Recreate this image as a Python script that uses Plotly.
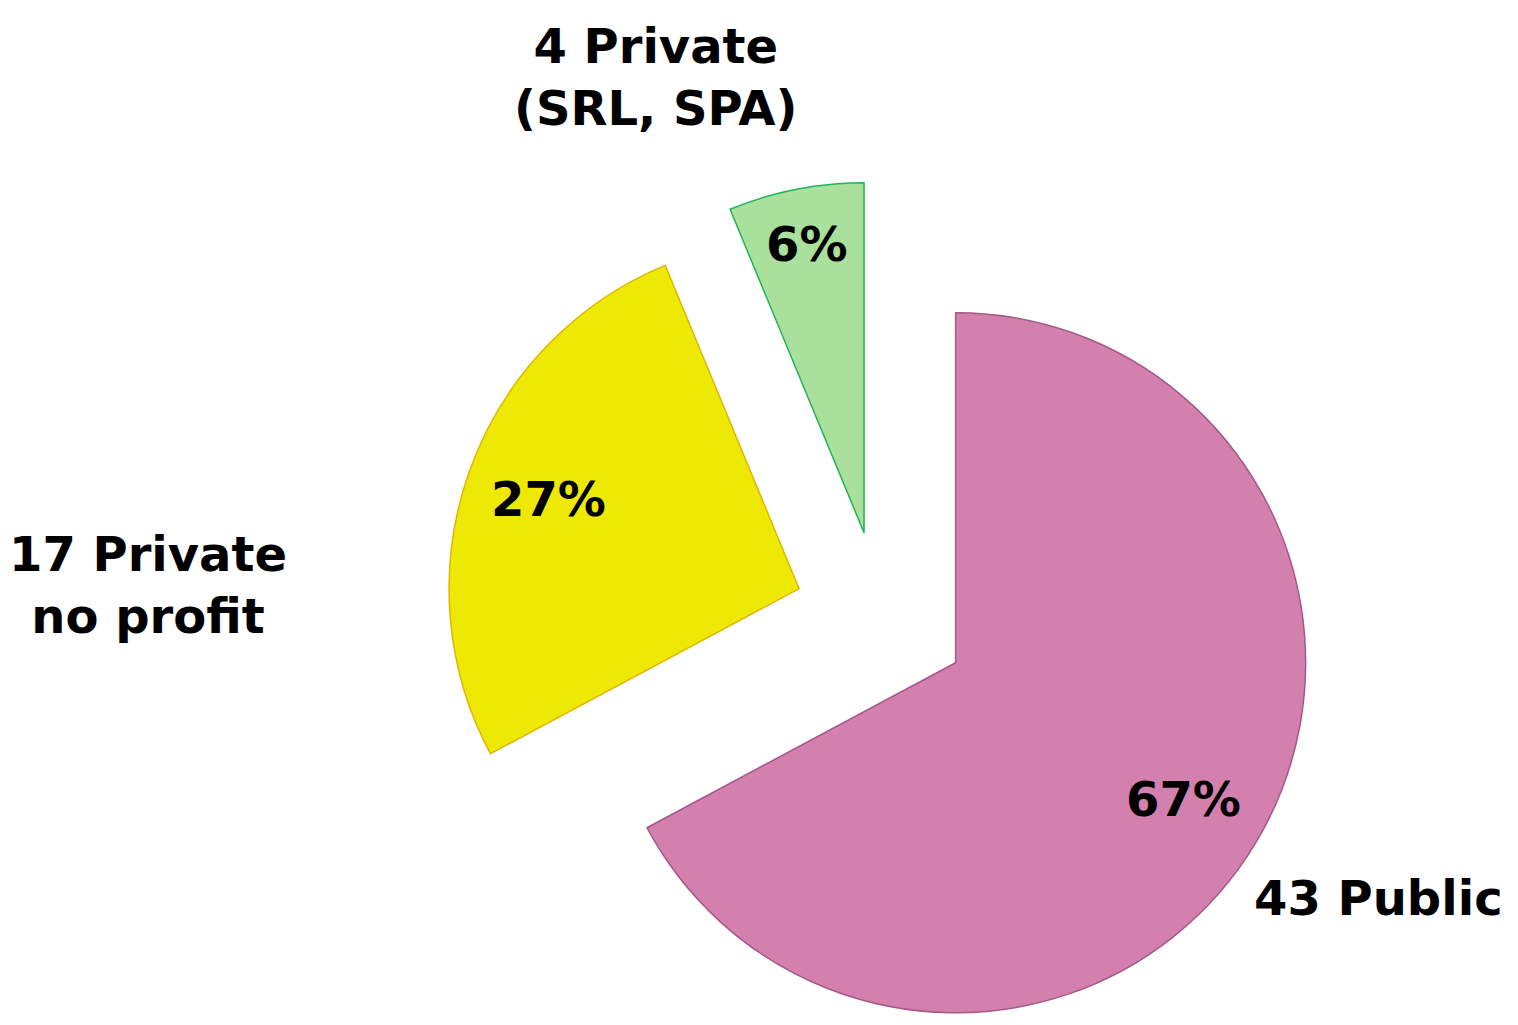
import math
import plotly.graph_objects as go

# Enterprise legal form breakdown
labels = ["Public", "Private no profit", "Private (SRL, SPA)"]
counts = [43, 17, 4]
label_lines = ["{n} Public", "{n} Private<br>no profit", "{n} Private<br>(SRL, SPA)"]

fill_colors = ["#D380AF", "#EDE804", "#A9E09C"]
edge_colors = ["#A4588A", "#E2B600", "#22B25C"]

W, H = 1518, 1025
CX, CY = 881.0, 618.0      # centre of the un-exploded pie (px)
R = 350.0                  # pie radius (px)
EXPLODE = 87.0             # distance each slice is pulled out (px)
PCT_RADIUS = [0.76, 0.76, 0.84]   # radial position of the % label, fraction of R
FONT = dict(family="DejaVu Sans", size=48, color="black")

total = sum(counts)
n = len(counts)
fig = go.Figure()

start = 0.0
for i, v in enumerate(counts):
    span = 360.0 * v / total
    mid = math.radians(start + span / 2)
    start += span
    ux, uy = math.sin(mid), -math.cos(mid)
    # apex of the exploded slice, moved outward along its mid-angle
    vx = CX + EXPLODE * ux
    vy = CY + EXPLODE * uy
    dom_x = [(vx - R) / W, (vx + R) / W]
    dom_y = [1 - (vy + R) / H, 1 - (vy - R) / H]

    fig.add_trace(go.Pie(
        values=counts,
        labels=labels,
        sort=False,
        direction="clockwise",
        rotation=0,
        domain=dict(x=dom_x, y=dom_y),
        marker=dict(
            colors=[fill_colors[k] if k == i else "rgba(0,0,0,0)" for k in range(n)],
            line=dict(
                color=[edge_colors[k] if k == i else "rgba(0,0,0,0)" for k in range(n)],
                width=[1.5 if k == i else 0 for k in range(n)],
            ),
        ),
        textinfo="none",
        hoverinfo="skip",
        showlegend=False,
    ))

    # percentage label inside the slice
    tx = vx + PCT_RADIUS[i] * R * ux
    ty = vy + PCT_RADIUS[i] * R * uy
    fig.add_annotation(
        x=tx / W, y=1 - ty / H, xref="paper", yref="paper",
        text="<b>{:.0f}%</b>".format(100.0 * v / total),
        showarrow=False, xanchor="center", yanchor="middle",
        font=FONT,
    )

# category labels placed around the pie
label_pos = [(1378, 898), (148, 585), (655, 77)]
for (px, py), tmpl, v in zip(label_pos, label_lines, counts):
    fig.add_annotation(
        x=px / W, y=1 - py / H, xref="paper", yref="paper",
        text="<b>" + tmpl.format(n=v) + "</b>",
        showarrow=False, xanchor="center", yanchor="middle",
        font=FONT,
    )

fig.update_layout(
    width=W, height=H,
    margin=dict(l=0, r=0, t=0, b=0),
    paper_bgcolor="white",
    plot_bgcolor="white",
)

fig.write_html("out.html")
